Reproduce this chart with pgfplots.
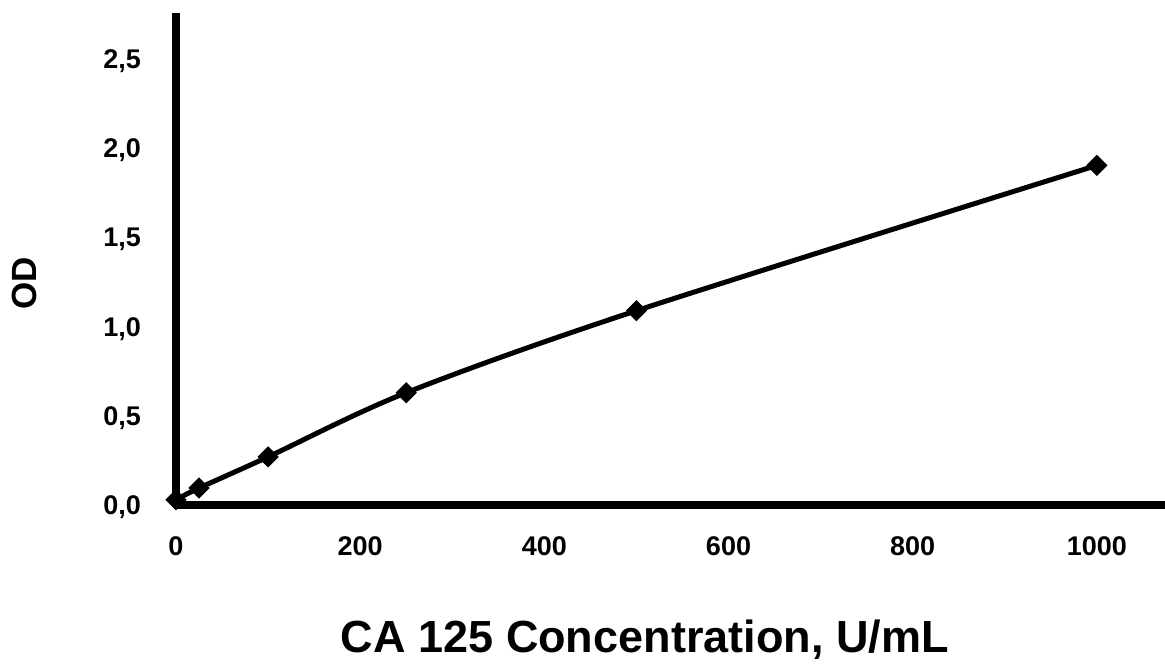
\documentclass[border=0pt]{standalone}
\usepackage{pgfplots}
\pgfplotsset{compat=1.18}
\usepackage{fontspec}
\setmainfont{Liberation Sans}
\begin{document}
\begin{tikzpicture}
\useasboundingbox (0,0) rectangle (582.5pt,332pt);
\begin{axis}[
    at={(88pt,79.5pt)}, anchor=origin,
    scale only axis,
    width=494.5pt, height=246pt,
    xmin=0, xmax=1074,
    ymin=0, ymax=2.76,
    axis lines=left,
    axis line style={-, line width=3.6pt},
    major tick length=0pt,
    xtick={0,200,400,600,800,1000},
    ytick={0,0.5,1,1.5,2,2.5},
    /pgf/number format/assume math mode=true,
    /pgf/number format/1000 sep={},
    yticklabel style={/pgf/number format/use comma, /pgf/number format/fixed,
        /pgf/number format/fixed zerofill, /pgf/number format/precision=1,
        font=\fontsize{13.5}{16}\selectfont\bfseries, xshift=-14pt, yshift=-1pt},
    xticklabel style={font=\fontsize{13.5}{16}\selectfont\bfseries, yshift=-12.5pt},
    xlabel={CA 125 Concentration, U/mL},
    xlabel style={at={(axis description cs:0.474,-0.274)}, anchor=center,
        font=\fontsize{22.5}{26}\selectfont\bfseries},
    ylabel={OD},
    ylabel style={at={(axis description cs:-0.153,0.451)}, anchor=center, rotate=0,
        font=\fontsize{17.5}{20}\selectfont\bfseries},
    clip=false,
]
\addplot[black, line width=2.5pt, smooth, mark=square*, mark size=3.5pt,
    mark options={rotate=45, line width=0.5pt}] coordinates {
    (0,0.03) (25,0.095) (100,0.27) (250,0.63) (500,1.09) (1000,1.905)
};
\end{axis}
\end{tikzpicture}
\end{document}
